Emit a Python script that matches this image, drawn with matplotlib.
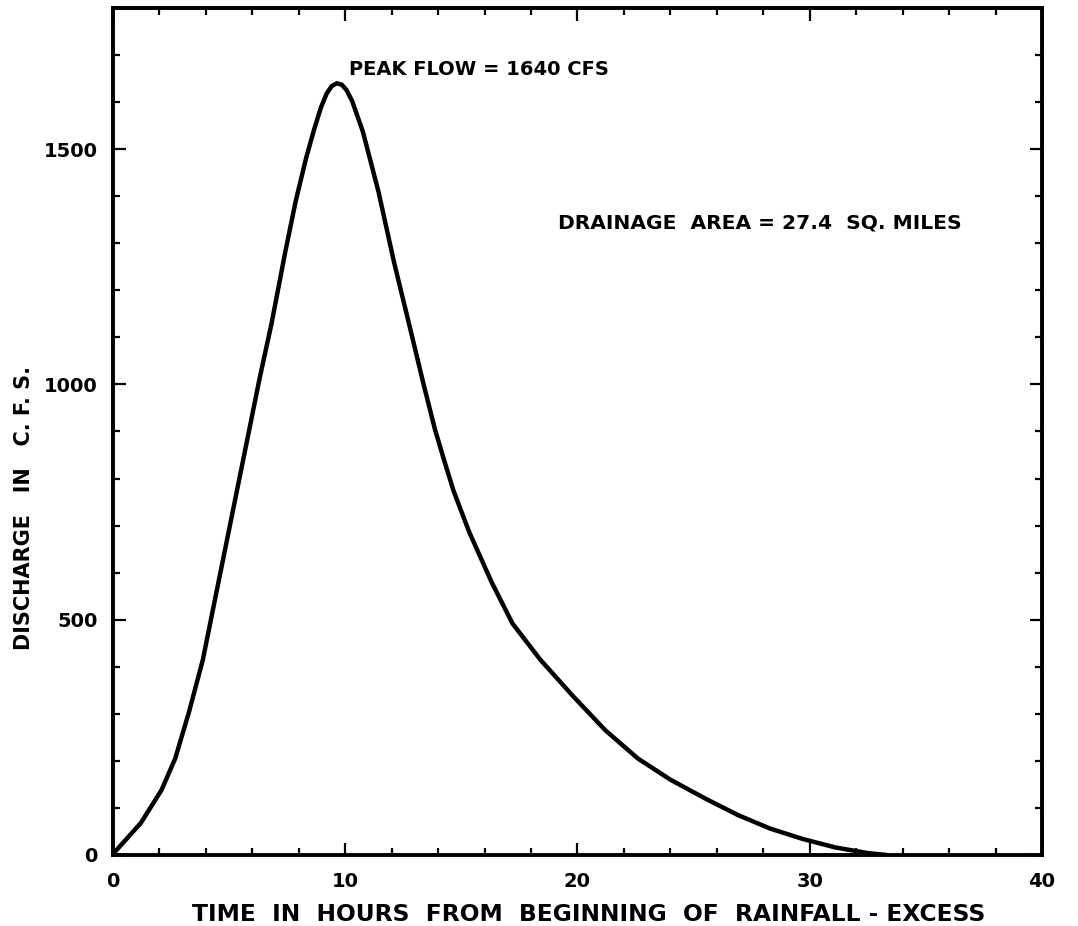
import numpy as np
import matplotlib
matplotlib.use("Agg")
import matplotlib.pyplot as plt
from matplotlib.ticker import MultipleLocator

# hydrograph (hours, cfs)
hours = [0.0, 0.09, 0.6, 1.2, 2.09, 2.68, 3.28, 3.87, 4.31, 4.76, 5.12, 5.64,
         6.31, 6.83, 7.42, 7.87, 8.31, 8.65, 8.95, 9.2, 9.42, 9.64, 9.85,
         10.05, 10.3, 10.76, 11.43, 12.1, 12.78, 13.35, 13.86, 14.3, 14.67,
         15.34, 16.3, 17.2, 18.4, 19.8, 21.2, 22.6, 24.0, 25.5, 26.9, 28.3,
         29.7, 31.1, 32.5, 33.3]
discharge = [0, 7, 35, 68, 138, 205, 305, 415, 523, 633, 721, 848,
             1012, 1130, 1282, 1390, 1480, 1540, 1588, 1618, 1634, 1640, 1637,
             1626, 1602, 1537, 1410, 1260, 1122, 1005, 905, 832, 773,
             686, 580, 492, 415, 338, 265, 205, 160, 120, 85, 56,
             34, 16, 4, 0]

x_major = [0, 10, 20, 30, 40]
y_major = [0, 500, 1000, 1500]
y_labels = ["0", "500", "1000", "1500"]

peak_text = "PEAK FLOW = 1640 CFS"
area_text = "DRAINAGE  AREA = 27.4  SQ. MILES"

plt.rcParams['font.family'] = ['DejaVu Sans']
plt.rcParams['font.weight'] = 'bold'

fig = plt.figure(figsize=(10.78, 9.26), dpi=100)
ax = fig.add_axes([0.1048, 0.0767, 0.8618, 0.9147])

ax.plot(hours, discharge, color="black", lw=3.2, solid_capstyle="round",
        solid_joinstyle="round")

ax.set_xlim(0, 40)
ax.set_ylim(0, 1800)
ax.set_xticks(x_major)
ax.set_xticklabels([str(v) for v in x_major])
ax.set_yticks(y_major)
ax.set_yticklabels(y_labels)
ax.xaxis.set_minor_locator(MultipleLocator(2))
ax.yaxis.set_minor_locator(MultipleLocator(100))

ax.tick_params(which="both", direction="in", top=True, right=True,
               width=1.6, color="black", labelsize=14)
ax.tick_params(which="major", length=9)
ax.tick_params(which="minor", length=5)
ax.tick_params(axis="x", pad=12)
ax.tick_params(axis="y", pad=11)

for sp in ax.spines.values():
    sp.set_linewidth(2.8)

ax.set_xlabel("TIME  IN  HOURS  FROM  BEGINNING  OF  RAINFALL - EXCESS",
              fontsize=16.8, fontweight="bold")
ax.set_ylabel("DISCHARGE   IN   C. F. S.", fontsize=15, fontweight="bold")
ax.xaxis.set_label_coords(0.512, -0.057)
ax.yaxis.set_label_coords(-0.085, 0.41)

ax.text(10.15, 1670, peak_text, fontsize=14, fontweight="bold",
        ha="left", va="center")
ax.text(19.15, 1342, area_text, fontsize=14.6, fontweight="bold",
        ha="left", va="center")

fig.savefig("out.png", dpi=100, facecolor="white")
